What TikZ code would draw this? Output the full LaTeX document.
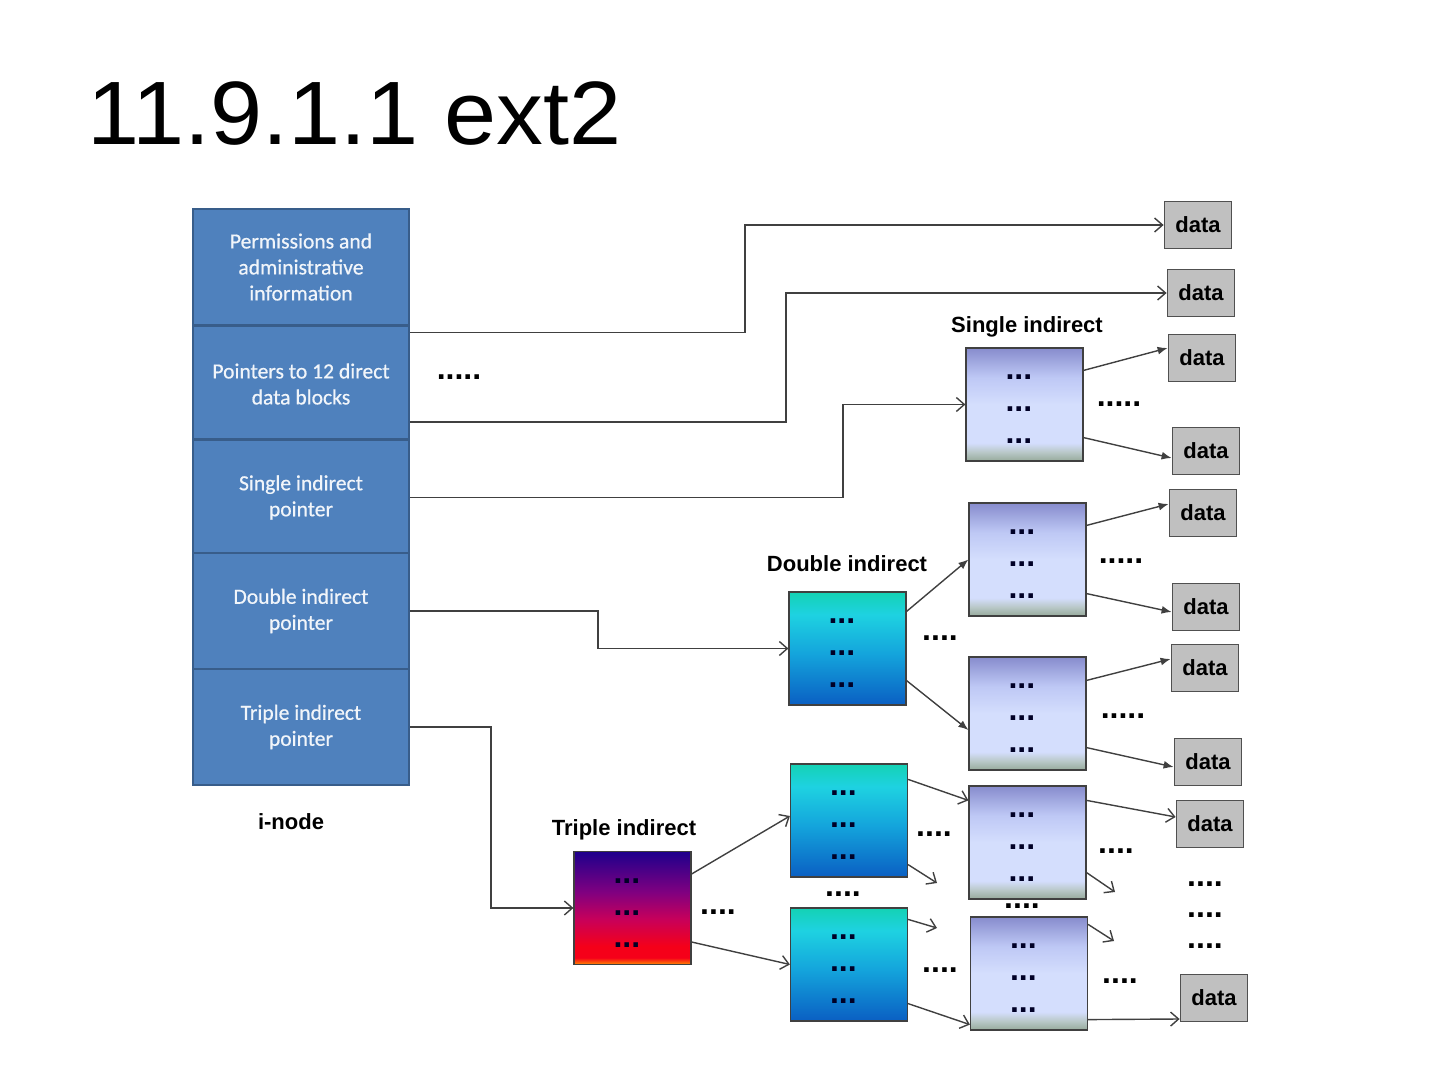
\documentclass[tikz,border=0pt]{standalone}
\usepackage{fontspec}
\setmainfont{Liberation Sans}
\newfontfamily\calibri{Carlito}
\usetikzlibrary{arrows.meta}

\definecolor{cellblue}{RGB}{79,129,189}
\definecolor{cellline}{RGB}{56,93,138}
\definecolor{datagray}{RGB}{192,192,192}
\definecolor{dataline}{RGB}{80,80,80}
\definecolor{wire}{RGB}{64,64,64}
\definecolor{lavtop}{RGB}{135,140,205}
\definecolor{lavmid}{RGB}{190,200,245}
\definecolor{lavlight}{RGB}{212,222,253}
\definecolor{lavgreen}{RGB}{185,200,200}
\definecolor{lavbot}{RGB}{150,170,155}
\definecolor{tealtop}{RGB}{20,210,180}
\definecolor{tealcyan}{RGB}{30,210,225}
\definecolor{tealmid}{RGB}{20,165,220}
\definecolor{tealbot}{RGB}{10,95,195}
\definecolor{trinavy}{RGB}{30,0,140}
\definecolor{tripurple}{RGB}{128,0,128}
\definecolor{trimag}{RGB}{200,0,90}
\definecolor{trired}{RGB}{245,0,25}
\definecolor{triorange}{RGB}{255,140,0}

\pgfdeclareverticalshading{lavfade}{100bp}{color(0bp)=(lavbot); color(25bp)=(lavbot);
  color(29bp)=(lavgreen); color(33bp)=(lavlight); color(50bp)=(lavlight);
  color(62bp)=(lavmid); color(75bp)=(lavtop); color(100bp)=(lavtop)}
\pgfdeclareverticalshading{tealfade}{100bp}{color(0bp)=(tealbot); color(25bp)=(tealbot);
  color(48bp)=(tealmid); color(65bp)=(tealcyan); color(75bp)=(tealtop); color(100bp)=(tealtop)}
\pgfdeclareverticalshading{trifade}{100bp}{color(0bp)=(triorange); color(25bp)=(triorange);
  color(28bp)=(trired); color(33bp)=(trired); color(45bp)=(trimag); color(57bp)=(tripurple);
  color(75bp)=(trinavy); color(100bp)=(trinavy)}

% three rows of dots, set a little left of and below the block centre
\newcommand{\dotrow}{\makebox[19pt][l]{...}}
\newcommand{\dotcol}{\rule{0pt}{7.3pt}\dotrow\\\dotrow\\\dotrow}

\tikzset{
  cell/.style={draw=cellline, line width=1.2pt, fill=cellblue, text=white!92!cellblue, align=center,
    font=\calibri\fontsize{10.8}{13}\selectfont\addfontfeature{FakeBold=0.6},
    minimum width=108pt, minimum height=58pt, inner sep=0pt},
  datbox/.style={draw=dataline, line width=0.9pt, fill=datagray, font=\bfseries\fontsize{11}{13}\selectfont,
    minimum width=33.5pt, minimum height=23.5pt, inner sep=0pt},
  blk/.style={draw=wire, line width=0.6pt, shade, minimum width=58.5pt, minimum height=56.5pt,
    inner sep=0pt, align=center, font=\bfseries\fontsize{16}{16}\selectfont, text=black!85!blue},
  lavblk/.style={blk, shading=lavfade},
  tealblk/.style={blk, shading=tealfade},
  triblk/.style={blk, shading=trifade},
  lbl/.style={font=\bfseries\fontsize{11}{13}\selectfont},
  gap/.style={font=\bfseries\fontsize{16}{16}\selectfont, inner sep=0pt},
  ptr/.style={draw=wire, line width=0.7pt, -{Straight Barb[length=4pt,width=7pt]}},
  fptr/.style={draw=wire, line width=0.7pt, -{Latex[length=5pt,width=4pt]}}
}

\begin{document}
\begin{tikzpicture}[x=0.5pt, y=-0.5pt]
  \useasboundingbox (0,0) rectangle (1440,1080);
  \node[anchor=base west, inner sep=0pt, font=\fontsize{45}{50}\selectfont\addfontfeature{FakeStretch=1.04}]
    (title) at (87,145) {11.9.1.1 ext2};

  % i-node
  \node[cell] (perm) at (301,267) {Permissions and\\administrative\\information};
  \node[cell] (direct) at (301,384) {Pointers to 12 direct\\data blocks};
  \node[cell] (single) at (301,497.5) {Single indirect\\pointer};
  \node[cell] (double) at (301,611) {Double indirect\\pointer};
  \node[cell] (triple) at (301,727) {Triple indirect\\pointer};
  \node[lbl] (ilbl) at (291,822) {i-node};
  \node[gap] (g1) at (459,377) {.....};

  % data blocks
  \node[datbox] (d1) at (1198,225) {data};
  \node[datbox] (d2) at (1201,293) {data};
  \node[datbox] (d3) at (1202,358) {data};
  \node[datbox] (d4) at (1206,451) {data};
  \node[datbox] (d5) at (1203,513) {data};
  \node[datbox] (d6) at (1206,607) {data};
  \node[datbox] (d7) at (1205,668) {data};
  \node[datbox] (d8) at (1208,762) {data};
  \node[datbox] (d9) at (1210,824) {data};
  \node[datbox] (d10) at (1214,998) {data};

  % indirect blocks
  \node[lavblk] (sblk) at (1024.5,404.5) {\dotcol};
  \node[lbl] (slbl) at (1027,327) {Single indirect};
  \node[tealblk] (dblk) at (847.5,648.5) {\dotcol};
  \node[lbl] (dlbl) at (847,564) {Double indirect};
  \node[lavblk] (dA) at (1027.5,559.5) {\dotcol};
  \node[lavblk] (dB) at (1027.5,713.5) {\dotcol};
  \node[triblk] (tblk) at (632.5,908) {\dotcol};
  \node[lbl] (tlbl) at (624,830) {Triple indirect};
  \node[tealblk] (tA) at (849,820.5) {\dotcol};
  \node[tealblk] (tB) at (849,964.5) {\dotcol};
  \node[lavblk] (tC) at (1027.5,842.5) {\dotcol};
  \node[lavblk] (tD) at (1029,973.5) {\dotcol};

  \node[gap] (g2) at (1119,404) {.....};
  \node[gap] (g3) at (940,638) {....};
  \node[gap] (g4) at (1121,561) {.....};
  \node[gap] (g5) at (1123,716) {.....};
  \node[gap] (g6) at (718,912) {....};
  \node[gap] (g7) at (843,894) {....};
  \node[gap] (g8) at (934,834) {....};
  \node[gap] (g9) at (940,970) {....};
  \node[gap] (g10) at (1022,906) {....};
  \node[gap] (g11) at (1116,851) {....};
  \node[gap] (g12) at (1120,981) {....};
  \node[gap] (g13) at (1205,884) {....};
  \node[gap] (g14) at (1205,915) {....};
  \node[gap] (g15) at (1205,946) {....};

  \coordinate (e1) at (937,883);
  \coordinate (e2) at (937,928);
  \coordinate (e3) at (1115,892);
  \coordinate (e4) at (1114,941);

  % pointers out of the i-node
  \draw[ptr] ([yshift=-4pt]direct.north east) -| (745,225) -- (d1);
  \draw[ptr] ([yshift=10.5pt]direct.south east) -| (786,293) -- (d2);
  \draw[ptr] (single.east) -| (843,404.5) -- (sblk);
  \draw[ptr] (double.east) -| (598,648.5) -- (dblk);
  \draw[ptr] (triple.east) -| (491,908) -- (tblk);

  % single and double indirect
  \draw[fptr] ([yshift=-11.5pt]sblk.north east) -- ([yshift=5pt]d3.west);
  \draw[fptr] ([yshift=12pt]sblk.south east) -- ([yshift=-3.5pt]d4.west);
  \draw[fptr] ([yshift=-10pt]dblk.north east) -- (dA.west);
  \draw[fptr] ([yshift=12.5pt]dblk.south east) -- ([yshift=-8.25pt]dB.west);
  \draw[fptr] ([yshift=-11.5pt]dA.north east) -- ([yshift=4.5pt]d5.west);
  \draw[fptr] ([yshift=11.5pt]dA.south east) -- ([yshift=-2.5pt]d6.west);
  \draw[fptr] ([yshift=-12pt]dB.north east) -- ([yshift=4.5pt]d7.west);
  \draw[fptr] ([yshift=11.5pt]dB.south east) -- ([yshift=-2.5pt]d8.west);

  % triple indirect
  \draw[ptr] ([yshift=17pt]tblk.east) -- ([yshift=2.25pt]tA.west);
  \draw[ptr] ([yshift=-17pt]tblk.east) -- (tB.west);
  \draw[ptr] ([yshift=-8pt]tA.north east) -- ([yshift=-7.5pt]tC.north west);
  \draw[ptr] ([yshift=6.5pt]tA.south east) -- (e1);
  \draw[ptr] ([yshift=-6pt]tB.north east) -- (e2);
  \draw[ptr] ([yshift=9pt]tB.south east) -- ([yshift=3pt]tD.south west);
  \draw[ptr] ([yshift=-7.5pt]tC.north east) -- ([yshift=3.5pt]d9.west);
  \draw[ptr] ([yshift=13.5pt]tC.south east) -- (e3);
  \draw[ptr] ([yshift=-4pt]tD.north east) -- (e4);
  \draw[ptr] ([yshift=5.5pt]tD.south east) -- ([yshift=-10.5pt]d10.west);
\end{tikzpicture}
\end{document}
